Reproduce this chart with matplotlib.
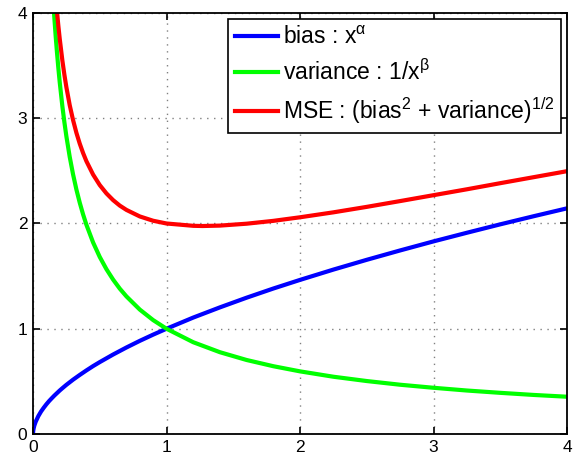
import matplotlib
matplotlib.use('Agg')
import matplotlib.pyplot as plt

plt.rcParams['font.family'] = ['Liberation Sans', 'DejaVu Sans']
plt.rcParams['mathtext.fontset'] = 'custom'
plt.rcParams['mathtext.rm'] = 'Liberation Sans'

# values
x_bias = [0, 0.001, 0.002, 0.005, 0.01, 0.02, 0.04, 0.06, 0.08, 0.1, 0.12, 0.14, 0.16, 0.18,
          0.2, 0.22, 0.25, 0.3, 0.35, 0.4, 0.45, 0.5, 0.6, 0.7, 0.8, 0.9, 1.0, 1.2, 1.4, 1.6,
          1.8, 2.0, 2.25, 2.5, 2.75, 3.0, 3.25, 3.5, 3.75, 4.0]
bias = [0, 0.022, 0.033, 0.054, 0.080, 0.116, 0.170, 0.213, 0.249, 0.282, 0.312, 0.339, 0.365, 0.389,
        0.413, 0.435, 0.467, 0.516, 0.561, 0.604, 0.645, 0.683, 0.755, 0.822, 0.885, 0.944, 1.0, 1.106, 1.203, 1.295,
        1.382, 1.464, 1.562, 1.655, 1.744, 1.830, 1.912, 1.992, 2.069, 2.144]

x_var = [0.12, 0.13, 0.14, 0.15, 0.16, 0.17, 0.18, 0.19, 0.2, 0.22, 0.235, 0.25, 0.275, 0.3, 0.325,
         0.35, 0.375, 0.4, 0.45, 0.5, 0.55, 0.6, 0.65, 0.7, 0.8, 0.9,
         1.0, 1.2, 1.4, 1.6, 1.8, 2.0, 2.25, 2.5, 2.75, 3.0, 3.25, 3.5, 3.75, 4.0]
variance = [4.904, 4.618, 4.369, 4.149, 3.953, 3.777, 3.619, 3.475, 3.344, 3.113, 2.963, 2.828, 2.633, 2.467, 2.323,
            2.198, 2.087, 1.988, 1.820, 1.682, 1.566, 1.467, 1.381, 1.307, 1.182, 1.082,
            1.0, 0.872, 0.777, 0.703, 0.644, 0.595, 0.544, 0.503, 0.468, 0.439, 0.413, 0.391, 0.371, 0.354]

x_mse = [0.14, 0.15, 0.16, 0.17, 0.18, 0.19, 0.2, 0.22, 0.235, 0.25, 0.275, 0.3, 0.325, 0.35, 0.375,
         0.4, 0.45, 0.5, 0.55, 0.6, 0.65, 0.7, 0.8, 0.9,
         1.0, 1.2, 1.27, 1.4, 1.6, 1.8, 2.0, 2.25, 2.5, 2.75, 3.0, 3.25, 3.5, 3.75, 4.0]
mse = [4.708, 4.501, 4.318, 4.154, 4.008, 3.876, 3.757, 3.548, 3.414, 3.295, 3.124, 2.983, 2.862, 2.759, 2.670,
       2.592, 2.465, 2.365, 2.286, 2.222, 2.170, 2.129, 2.067, 2.026,
       2.0, 1.978, 1.976, 1.980, 1.998, 2.025, 2.059, 2.106, 2.158, 2.213, 2.269, 2.325, 2.383, 2.440, 2.497]

fig = plt.figure(figsize=(5.76, 4.61), dpi=100)
ax = fig.add_axes([0.0573, 0.0586, 0.9271, 0.9132])

ax.plot(x_bias, bias, color='#0000ff', linewidth=3, label=r'bias : x$^{\mathregular{α}}$')
ax.plot(x_var, variance, color='#00ff00', linewidth=3, label=r'variance : 1/x$^{\mathregular{β}}$')
ax.plot(x_mse, mse, color='#ff0000', linewidth=3,
        label=r'MSE : (bias$^{\mathregular{2}}$ + variance)$^{\mathregular{1/2}}$')

ax.set_xlim(0, 4)
ax.set_ylim(0, 4)
ax.set_xticks([0, 1, 2, 3, 4])
ax.set_yticks([0, 1, 2, 3, 4])
ax.grid(True, linestyle=(0, (1, 4)), color='#808080', linewidth=1)
ax.tick_params(direction='in', top=True, right=True, length=5, width=1.2, labelsize=12.5, pad=4)
for s in ax.spines.values():
    s.set_linewidth(1.3)

leg = ax.legend(loc='upper right', fontsize=16.5, fancybox=False, framealpha=1,
                edgecolor='black', borderaxespad=0.25, handlelength=1.9,
                handletextpad=0.2, labelspacing=0.45, borderpad=0.3)
leg.get_frame().set_linewidth(1.2)

fig.savefig('out.png', dpi=100)
